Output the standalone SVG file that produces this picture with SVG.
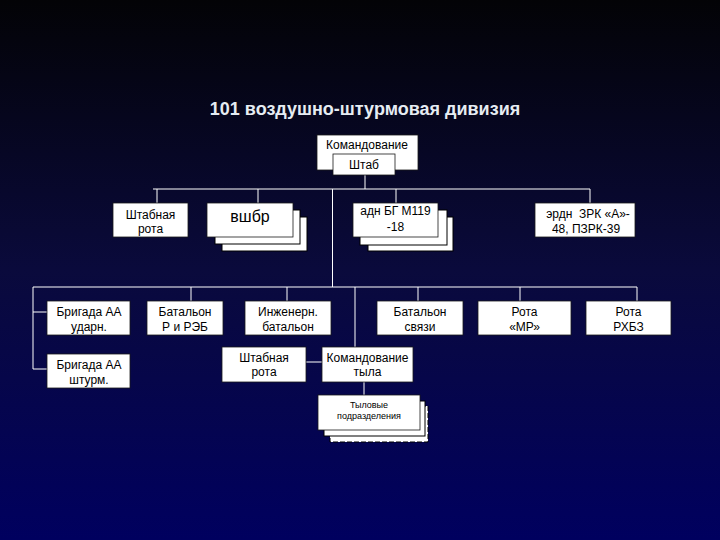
<svg xmlns="http://www.w3.org/2000/svg" width="720" height="540" viewBox="0 0 720 540">
<defs>
<linearGradient id="bg" x1="0" y1="0" x2="0" y2="1">
<stop offset="0" stop-color="#030306"/>
<stop offset="0.5" stop-color="#0a0a3c"/>
<stop offset="1" stop-color="#00005f"/>
</linearGradient>
<style>
.box{fill:#ffffff;stroke:#1a1a1a;stroke-width:0.8}
.back{fill:#ffffff;stroke:#000000;stroke-width:1}
.dash{fill:#ffffff;stroke:#000000;stroke-width:1;stroke-dasharray:5 2}
.t{font-family:"Liberation Sans",Arial,sans-serif;font-size:12px;fill:#000000;text-anchor:middle}
.s{font-family:"Liberation Sans",Arial,sans-serif;font-size:9px;fill:#000000;text-anchor:middle}
.title{font-family:"Liberation Sans",Arial,sans-serif;font-size:18px;font-weight:bold;fill:#e6ecf2;text-anchor:middle}
.ln{stroke:#ffffff;stroke-width:1;fill:none}
</style>
</defs>
<rect x="0" y="0" width="720" height="540" fill="url(#bg)"/>
<text class="title" x="365" y="115">101 воздушно-штурмовая дивизия</text>

<g id="connectors">
<path class="ln" d="M365 175V189M153 189H590M157 189V203M258 189V203M396 189V203M590 189V203M332.5 189V287"/>
<path class="ln" d="M33 287H637M33 287V369M33 312H47M33 369H47M191 287V301M287 287V301M418 287V301M520 287V301M637 287V301M355 287V347M306 362H322M364 382V395"/>
</g>

<g id="komandovanie">
<rect class="box" x="317" y="135" width="101" height="35"/>
<text class="t" x="367" y="149">Командование</text>
</g>
<g id="shtab">
<rect class="box" x="333" y="154" width="62" height="21"/>
<text class="t" x="364" y="169">Штаб</text>
</g>

<g id="shtabnaya-rota-1">
<rect class="box" x="113" y="203" width="75" height="34"/>
<text class="t" x="150.5" y="219">Штабная</text>
<text class="t" x="150.5" y="233">рота</text>
</g>
<g id="vshbr">
<rect class="back" x="222" y="217" width="85" height="34"/>
<rect class="back" x="215" y="210" width="85" height="34"/>
<rect class="box" x="207" y="203" width="86" height="34"/>
<text class="t" x="250" y="222" style="font-size:16px">вшбр</text>
</g>
<g id="adn">
<rect class="back" x="368" y="217" width="85" height="34"/>
<rect class="back" x="360" y="210" width="87" height="35"/>
<rect class="box" x="353" y="203" width="85" height="34"/>
<text class="t" x="395.5" y="215">адн БГ М119</text>
<text class="t" x="395.5" y="231">-18</text>
</g>
<g id="erdn">
<rect class="box" x="535" y="203" width="100" height="34"/>
<text class="t" x="588" y="218">эрдн&#160; ЗРК «А»-</text>
<text class="t" x="586" y="233">48, ПЗРК-39</text>
</g>

<g id="brigada-udarn">
<rect class="box" x="47" y="301" width="83" height="34"/>
<text class="t" x="89" y="316">Бригада АА</text>
<text class="t" x="89" y="331">ударн.</text>
</g>
<g id="brigada-shturm">
<rect class="box" x="47" y="354" width="83" height="34"/>
<text class="t" x="89" y="369">Бригада АА</text>
<text class="t" x="89" y="384">штурм.</text>
</g>
<g id="batalon-reb">
<rect class="box" x="147" y="301" width="76" height="34"/>
<text class="t" x="185" y="316">Батальон</text>
<text class="t" x="185" y="331">Р и РЭБ</text>
</g>
<g id="inzhener">
<rect class="box" x="245" y="301" width="86" height="34"/>
<text class="t" x="288" y="316">Инженерн.</text>
<text class="t" x="288" y="331">батальон</text>
</g>
<g id="batalon-svyazi">
<rect class="box" x="377" y="301" width="86" height="34"/>
<text class="t" x="420" y="316">Батальон</text>
<text class="t" x="420" y="331">связи</text>
</g>
<g id="rota-mr">
<rect class="box" x="478" y="301" width="93" height="34"/>
<text class="t" x="524.5" y="316">Рота</text>
<text class="t" x="524.5" y="331">«МР»</text>
</g>
<g id="rota-rhbz">
<rect class="box" x="586" y="301" width="85" height="34"/>
<text class="t" x="628.5" y="316">Рота</text>
<text class="t" x="628.5" y="331">РХБЗ</text>
</g>

<g id="shtabnaya-rota-2">
<rect class="box" x="222" y="347" width="84" height="35"/>
<text class="t" x="264" y="362">Штабная</text>
<text class="t" x="264" y="376">рота</text>
</g>
<g id="komandovanie-tyla">
<rect class="box" x="322" y="347" width="91" height="35"/>
<text class="t" x="367.5" y="362">Командование</text>
<text class="t" x="367.5" y="376">тыла</text>
</g>
<g id="tylovye">
<rect class="dash" x="330" y="406" width="98" height="36"/>
<rect class="back" x="324" y="401" width="101" height="35"/>
<rect class="box" x="318" y="395" width="102" height="35"/>
<text class="s" x="369" y="408">Тыловые</text>
<text class="s" x="369" y="419">подразделения</text>
</g>
</svg>
